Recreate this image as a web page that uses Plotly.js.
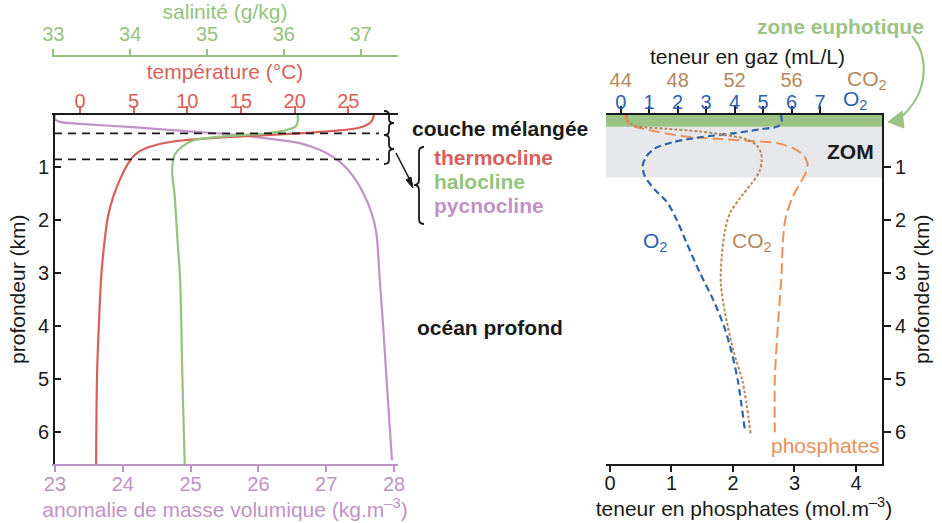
<!DOCTYPE html>
<html><head><meta charset="utf-8">
<script src="https://cdn.plot.ly/plotly-3.0.1.min.js"></script>
<style>html,body{margin:0;padding:0;background:#fff}#chart{width:942px;height:523px}</style>
</head><body><div id="chart"></div>
<script>
// ---------- data ----------
const depthTicks = [1, 2, 3, 4, 5, 6];
const tempTicks = [0, 5, 10, 15, 20, 25];
const salTicks = [33, 34, 35, 36, 37];
const densTicks = [23, 24, 25, 26, 27, 28];
const o2Ticks = [0, 1, 2, 3, 4, 5, 6, 7];
const co2Ticks = [44, 48, 52, 56];
const phosTicks = [0, 1, 2, 3, 4];

const depthT = [0, 0.12, 0.2, 0.26, 0.31, 0.355, 0.405, 0.45, 0.51, 0.61, 0.73, 0.92, 1.24, 1.55, 1.93, 2.37, 3.0, 4.0, 5.0, 6.6];
const temperature = [27.4, 27.2, 26.7, 25.8, 23.6, 20.5, 15.9, 11.8, 8.7, 6.5, 5.3, 4.5, 3.7, 3.1, 2.6, 2.3, 2.0, 1.75, 1.58, 1.5];

const depthS = [0, 0.14, 0.23, 0.29, 0.355, 0.39, 0.43, 0.49, 0.61, 0.76, 0.95, 1.17, 1.55, 2.24, 3.12, 5.0, 6.6];
const salinity = [36.18, 36.18, 36.15, 36.04, 35.78, 35.43, 35.08, 34.82, 34.67, 34.58, 34.55, 34.55, 34.58, 34.61, 34.65, 34.68, 34.71];

const depthD = [0, 0.09, 0.14, 0.18, 0.24, 0.31, 0.38, 0.45, 0.54, 0.67, 0.8, 0.95, 1.17, 1.49, 1.86, 2.24, 3.12, 4.0, 5.0, 6.53];
const density = [23.0, 23.0, 23.07, 23.42, 24.15, 24.89, 25.63, 26.12, 26.61, 26.91, 27.1, 27.25, 27.4, 27.55, 27.67, 27.74, 27.79, 27.84, 27.89, 27.97];

const depthO2 = [0, 0.14, 0.22, 0.28, 0.355, 0.43, 0.52, 0.64, 0.8, 0.98, 1.17, 1.42, 1.65, 1.99, 2.43, 3.0, 3.5, 4.0, 4.5, 5.04, 6.0];
const oxygen = [5.63, 5.65, 5.54, 4.89, 3.95, 2.79, 1.85, 1.2, 0.89, 0.77, 0.85, 1.2, 1.62, 1.97, 2.32, 2.79, 3.25, 3.63, 3.9, 4.12, 4.37];

const depthCO2 = [0, 0.14, 0.22, 0.27, 0.32, 0.39, 0.47, 0.58, 0.73, 0.89, 1.08, 1.3, 1.58, 1.86, 2.18, 2.68, 3.18, 3.75, 4.5, 5.05, 6.03];
const co2 = [44.42, 44.53, 45.12, 47.23, 49.57, 51.45, 52.85, 53.55, 53.86, 53.9, 53.74, 53.2, 52.38, 51.68, 51.33, 51.1, 51.03, 51.33, 51.96, 52.57, 53.13];

const depthP = [0, 0.12, 0.2, 0.27, 0.41, 0.46, 0.5, 0.54, 0.64, 0.76, 0.92, 1.08, 1.3, 1.61, 1.99, 2.43, 3.0, 3.82, 5.0, 6.0];
const phosphate = [0.24, 0.26, 0.33, 0.54, 1.19, 1.73, 2.28, 2.71, 2.98, 3.14, 3.21, 3.19, 3.09, 2.95, 2.85, 2.81, 2.79, 2.74, 2.68, 2.68];

const layerDepths = [0.355, 0.846];          // mixed layer / thermocline limits (km)
const euphoticZone = [0, 0.23];               // km
const omzZone = [0.23, 1.19];                 // km

// ---------- styling ----------
const W = 942, H = 523;
const FONT = 'Liberation Sans, Arial, sans-serif';
const C = {
  red: '#d9605a', green: '#93c47d', purple: '#c192c6', blue: '#2e62ad',
  brown: '#b5885a', orange: '#e8915b', band: '#9cc386', grey: '#e6e7ea', black: '#1a1a1a'
};
const px = (x) => x / W;
const py = (y) => 1 - y / H;

const leftDom = [px(52), px(398)];
const rightDom = [px(606), px(882)];
const yDom = [py(464), py(114.5)];
const depthRange = [6.6, 0];

const tickFont = (c) => ({family: FONT, size: 20, color: c});
const titleFont = (c) => ({family: FONT, size: 21, color: c});

function baseAxis(extra) {
  return Object.assign({showgrid: false, zeroline: false, fixedrange: true, ticks: 'outside',
    tickwidth: 2, linewidth: 2, showline: true, automargin: false, tickmode: 'array'}, extra);
}

const traces = [
  {x: temperature, y: depthT, xaxis: 'x2', yaxis: 'y', mode: 'lines',
   line: {color: C.red, width: 2.2, shape: 'spline', smoothing: 0.8}, name: 'température'},
  {x: salinity, y: depthS, xaxis: 'x3', yaxis: 'y', mode: 'lines',
   line: {color: C.green, width: 2.2, shape: 'spline', smoothing: 0.8}, name: 'salinité'},
  {x: density, y: depthD, xaxis: 'x', yaxis: 'y', mode: 'lines',
   line: {color: C.purple, width: 2.2, shape: 'spline', smoothing: 0.8}, name: 'masse volumique'},
  {x: phosphate, y: depthP, xaxis: 'x4', yaxis: 'y2', mode: 'lines',
   line: {color: C.orange, width: 2, dash: '11px,5px', shape: 'spline', smoothing: 0.8}, name: 'phosphates'},
  {x: co2, y: depthCO2, xaxis: 'x6', yaxis: 'y2', mode: 'lines',
   line: {color: C.brown, width: 2, dash: '3px,2px', shape: 'spline', smoothing: 0.8}, name: 'CO2'},
  {x: oxygen, y: depthO2, xaxis: 'x5', yaxis: 'y2', mode: 'lines',
   line: {color: C.blue, width: 2.2, dash: '7px,4px', shape: 'spline', smoothing: 0.8}, name: 'O2'}
];

// brace helpers (pixel space -> paper)
function brace(x0, xt, y1, y2, ym, r) {
  const xm = (x0 + xt) / 2;
  const p = (x, y) => px(x) + ',' + py(y);
  return 'M' + p(x0, y1) + ' Q' + p(xm, y1) + ' ' + p(xm, y1 + r) + ' L' + p(xm, ym - r) +
    ' Q' + p(xm, ym) + ' ' + p(xt, ym) + ' Q' + p(xm, ym) + ' ' + p(xm, ym + r) +
    ' L' + p(xm, y2 - r) + ' Q' + p(xm, y2) + ' ' + p(x0, y2);
}
function pp(points) { return points.map(([x, y], i) => (i ? 'L' : 'M') + px(x) + ',' + py(y)).join(' '); }

const shapes = [
  {type: 'rect', xref: 'x4', yref: 'y2', x0: -0.065, x1: 4.423, y0: omzZone[0], y1: omzZone[1],
   fillcolor: C.grey, line: {width: 0}, layer: 'below'},
  {type: 'rect', xref: 'x4', yref: 'y2', x0: -0.065, x1: 4.423, y0: euphoticZone[0], y1: euphoticZone[1],
   fillcolor: C.band, line: {width: 0}, layer: 'below'},
  ...layerDepths.map(d => ({type: 'line', xref: 'paper', yref: 'y', x0: px(54), x1: px(379), y0: d, y1: d,
   line: {color: C.black, width: 1.8, dash: '8px,6px'}})),
  {type: 'path', xref: 'paper', yref: 'paper', path: brace(384, 394, 111, 135, 123, 4), line: {color: C.black, width: 1.8}},
  {type: 'path', xref: 'paper', yref: 'paper', path: brace(384, 394, 135, 164, 149, 4), line: {color: C.black, width: 1.8}},
  {type: 'path', xref: 'paper', yref: 'paper', path: brace(424, 414, 147, 224, 185, 5), line: {color: C.black, width: 1.8}},
  {type: 'path', xref: 'paper', yref: 'paper', path: pp([[396, 153], [412, 184]]), line: {color: C.black, width: 1.6}},
  {type: 'path', xref: 'paper', yref: 'paper', path: pp([[413, 188], [406, 180], [411, 177]]) + ' Z', fillcolor: C.black, line: {color: C.black, width: 1}},
  {type: 'path', xref: 'paper', yref: 'paper',
   path: 'M' + px(912) + ',' + py(36) + ' C' + px(928) + ',' + py(55) + ' ' + px(931) + ',' + py(92) + ' ' + px(899) + ',' + py(119),
   line: {color: C.band, width: 2.2}},
  {type: 'path', xref: 'paper', yref: 'paper', path: pp([[888, 122], [902, 111], [904, 128]]) + ' Z',
   fillcolor: C.band, line: {color: C.band, width: 1}}
];

const ann = (x, y, text, color, opts) => Object.assign({xref: 'paper', yref: 'paper', x: px(x), y: py(y),
  text: text, showarrow: false, font: {family: FONT, size: 21, color: color}, xanchor: 'left', yanchor: 'middle'}, opts || {});

const annotations = [
  ann(410, 128, '<b>couche mélangée</b>', C.black),
  ann(432, 157, '<b>thermocline</b>', C.red),
  ann(432, 181, '<b>halocline</b>', C.green),
  ann(432, 205, '<b>pycnocline</b>', C.purple),
  ann(415, 327, '<b>océan profond</b>', C.black),
  ann(876, 151, '<b>ZOM</b>', C.black, {xanchor: 'right'}),
  ann(840, 26, '<b>zone euphotique</b>', C.band, {xanchor: 'center'}),
  ann(882, 445, 'phosphates', C.orange, {xanchor: 'right'}),
  ann(655, 242, 'O<sub>2</sub>', C.blue, {xanchor: 'center'}),
  ann(752, 242, 'CO<sub>2</sub>', C.brown, {xanchor: 'center'}),
  ann(841, 100, 'O<sub>2</sub>', C.blue, {xanchor: 'left'}),
  ann(845, 80, 'CO<sub>2</sub>', C.brown, {xanchor: 'left'}),
  ann(747, 56, 'teneur en gaz (mL/L)', C.black, {xanchor: 'center'})
];

const layout = {
  width: W, height: H, margin: {l: 0, r: 0, t: 0, b: 0}, paper_bgcolor: '#fff', plot_bgcolor: 'rgba(0,0,0,0)',
  showlegend: false, font: {family: FONT, size: 20, color: C.black},
  // left panel
  xaxis: baseAxis({domain: leftDom, range: [22.956, 28.059], anchor: 'y', side: 'bottom',
    tickvals: densTicks, ticktext: densTicks.map(String), linecolor: C.purple, tickcolor: C.purple, ticklen: 6,
    tickfont: tickFont(C.purple), ticklabelstandoff: -5,
    title: {text: 'anomalie de masse volumique (kg.m<sup>–3</sup>)', font: titleFont(C.purple), standoff: 0}}),
  xaxis2: baseAxis({overlaying: 'x', anchor: 'y', side: 'top', range: [-2.609, 29.63],
    tickvals: tempTicks, ticktext: tempTicks.map(String), linecolor: C.black, tickcolor: C.red, ticklen: 7,
    tickfont: tickFont(C.red), ticklabelstandoff: -10,
    title: {text: 'température (°C)', font: titleFont(C.red), standoff: 4}}),
  xaxis3: baseAxis({overlaying: 'x', anchor: 'free', position: py(56), side: 'top', range: [32.983, 37.485],
    tickvals: salTicks, ticktext: salTicks.map(String), linecolor: C.green, tickcolor: C.green, ticklen: 6,
    tickfont: tickFont(C.green),
    title: {text: 'salinité (g/kg)', font: titleFont(C.green), standoff: 1}}),
  yaxis: baseAxis({domain: yDom, range: depthRange, anchor: 'free', position: px(54), side: 'left', ticks: 'inside', ticklen: 6,
    tickvals: depthTicks, ticktext: depthTicks.map(String), linecolor: C.black, tickcolor: C.black,
    tickfont: tickFont(C.black),
    title: {text: 'profondeur (km)', font: titleFont(C.black), standoff: 6}}),
  // right panel
  xaxis4: baseAxis({domain: rightDom, range: [-0.065, 4.423], anchor: 'y2', side: 'bottom',
    tickvals: phosTicks, ticktext: phosTicks.map(String), linecolor: C.black, tickcolor: C.black, ticklen: 6,
    tickfont: tickFont(C.black), ticklabelstandoff: -6,
    title: {text: 'teneur en phosphates (mol.m<sup>–3</sup>)', font: titleFont(C.black), standoff: 0}}),
  xaxis5: baseAxis({overlaying: 'x4', anchor: 'y2', side: 'top', range: [-0.516, 9.178],
    tickvals: o2Ticks, ticktext: o2Ticks.map(String), linecolor: C.black, tickcolor: C.black, ticklen: 7,
    tickfont: tickFont(C.blue), ticklabelstandoff: -11}),
  xaxis6: baseAxis({overlaying: 'x4', anchor: 'free', position: py(91), side: 'top', range: [42.968, 62.356],
    showline: false, ticks: '', ticklen: 0,
    tickvals: co2Ticks, ticktext: co2Ticks.map(String), tickfont: tickFont(C.brown)}),
  yaxis2: baseAxis({domain: yDom, range: depthRange, anchor: 'x4', side: 'right', ticks: 'outside', ticklen: 7,
    tickvals: depthTicks, ticktext: depthTicks.map(String), linecolor: C.black, tickcolor: C.black,
    tickfont: tickFont(C.black),
    title: {text: 'profondeur (km)', font: titleFont(C.black), standoff: 9}}),
  shapes: shapes,
  annotations: annotations
};

Plotly.newPlot('chart', traces, layout, {displayModeBar: false, staticPlot: true});
</script>
</body></html>
